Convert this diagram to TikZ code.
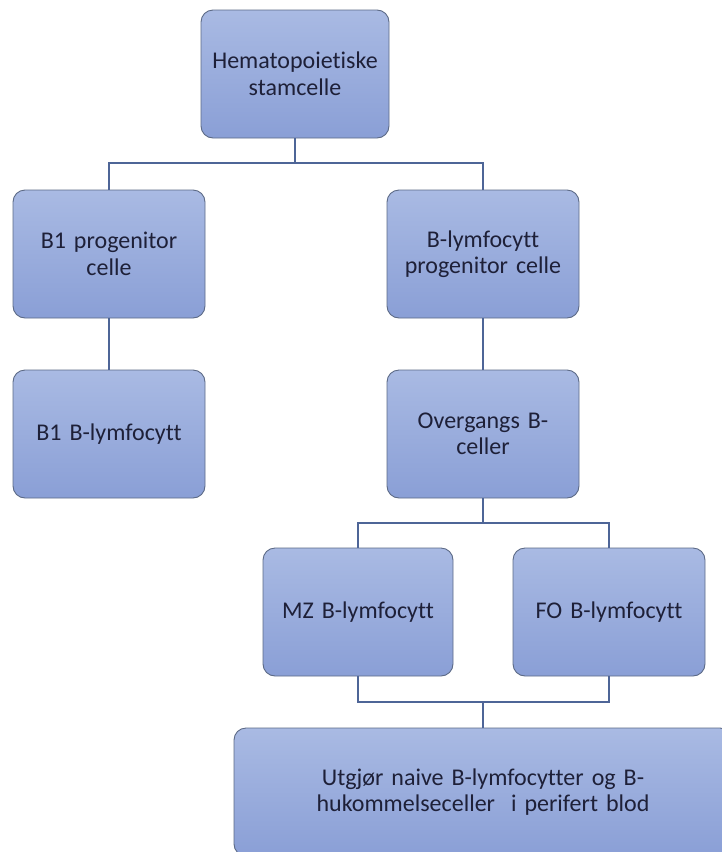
\documentclass[tikz,border=0pt]{standalone}
\usepackage{fontspec}
\setmainfont{Carlito}[Ligatures={NoCommon}]
\definecolor{boxtop}{HTML}{A9BAE3}
\definecolor{boxbot}{HTML}{8A9FD6}
\definecolor{boxedge}{HTML}{5C6A86}
\definecolor{linkc}{HTML}{4E6597}
\definecolor{txt}{HTML}{1E2038}
\begin{document}
\begin{tikzpicture}[x=1pt,y=-1pt,
  cellbox/.style={rectangle, rounded corners=12pt, draw=boxedge, line width=0.9pt,
    top color=boxtop, bottom color=boxbot, minimum width=192pt, minimum height=128pt,
    text width=180pt, align=center, text=txt, font=\fontsize{24}{26.5}\selectfont, inner sep=0pt},
  link/.style={draw=linkc, line width=1.6pt}]
\useasboundingbox (0,0) rectangle (721,852);
\node[cellbox, minimum width=188pt] (top) at (295,74) {Hematopoietiske\\stamcelle};
\node[cellbox] (b1p) at (109,254) {B1 progenitor\\celle};
\node[cellbox] (blp) at (483,254) {B-lymfocytt\\progenitor celle};
\node[cellbox] (b1b) at (109,434) {B1 B-lymfocytt};
\node[cellbox] (ov) at (483,434) {Overgangs B-\\celler};
\node[cellbox, minimum width=190pt] (mz) at (358,612) {MZ B-lymfocytt};
\node[cellbox] (fo) at (609,612) {FO B-lymfocytt};
\node[cellbox, minimum width=498pt, text width=460pt] (bot) at (483,792) {Utgjør naive B-lymfocytter og B-\\hukommelseceller\ \ i perifert blod};
\coordinate (j1) at (295,163);
\coordinate (j2) at (483,523);
\coordinate (j3) at (483,702);
\path[link] (top.south) -- (j1);
\path[link] (b1p.north) |- (j1) -| (blp.north);
\path[link] (b1p.south) -- (b1b.north);
\path[link] (blp.south) -- (ov.north);
\path[link] (ov.south) -- (j2);
\path[link] (mz.north) |- (j2) -| (fo.north);
\path[link] (mz.south) |- (j3) -| (fo.south);
\path[link] (j3) -- (bot.north);
\end{tikzpicture}
\end{document}
